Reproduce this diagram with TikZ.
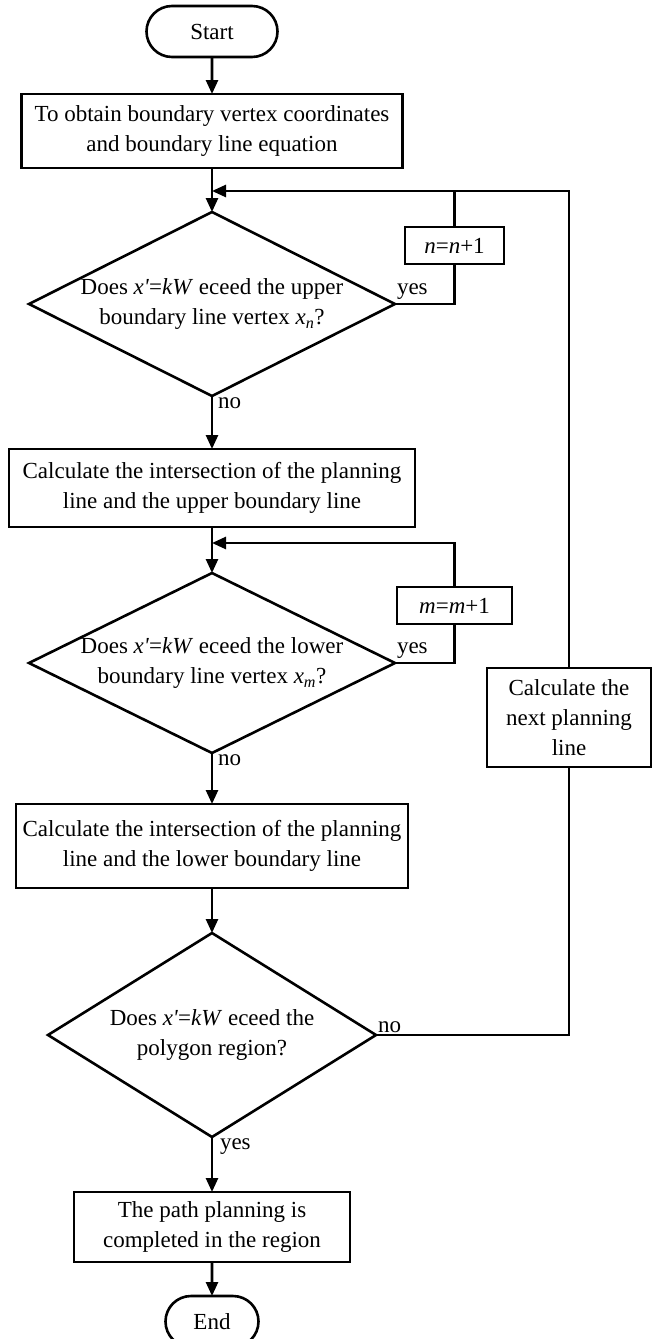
\documentclass[tikz,border=0pt]{standalone}
\usepackage{fontspec}
\setmainfont{Liberation Serif}
\usepackage{tikz}
\usetikzlibrary{arrows.meta,positioning,shapes.geometric,shapes.misc}

\begin{document}
\begin{tikzpicture}[
  x=1pt, y=-1pt,
  line width=2.6pt,
  every node/.style={font=\fontsize{23}{30}\selectfont, outer sep=0pt},
  term/.style={draw, rounded rectangle, minimum height=51pt, inner sep=0pt},
  box/.style={draw, rectangle, align=center, inner sep=0pt},
  decision/.style={draw, diamond, aspect=2, align=center, inner sep=-15pt},
  lbl/.style={inner sep=2pt},
  arrow/.style={-{Triangle[length=14pt,width=12pt]}}
]
\useasboundingbox (0,0) rectangle (655,1339);
\node[term, minimum width=131pt] (start) at (212,31.5) {Start};
\node[box, minimum width=381pt, minimum height=74pt, below=37pt of start] (obtain) {To obtain boundary vertex coordinates\\and boundary line equation};
\node[decision, minimum width=366pt, minimum height=184pt, below=44pt of obtain] (upper) {Does \textit{x\textquotesingle}=\textit{kW} eceed the upper\\boundary line vertex \textit{x}\textsubscript{\textit{n}}?};
\node[box, minimum width=406pt, minimum height=78pt, below=53pt of upper] (inter1) {Calculate the intersection of the planning\\line and the upper boundary line};
\node[decision, minimum width=366pt, minimum height=180pt, below=46pt of inter1] (lower) {Does \textit{x\textquotesingle}=\textit{kW} eceed the lower\\boundary line vertex \textit{x}\textsubscript{\textit{m}}?};
\node[box, minimum width=392pt, minimum height=84pt, below=51pt of lower] (inter2) {Calculate the intersection of the planning\\line and the lower boundary line};
\node[decision, minimum width=328pt, minimum height=204pt, below=45pt of inter2] (region) {Does \textit{x\textquotesingle}=\textit{kW} eceed the\\polygon region?};
\node[box, minimum width=276pt, minimum height=70pt, below=55pt of region] (done) {The path planning is\\completed in the region};
\node[term, minimum width=93pt, below=34pt of done] (end) {End};
\node[box, minimum width=99pt, minimum height=37pt] (nbox) at (454.5,245.5) {\textit{n}=\textit{n}+1};
\node[box, minimum width=115pt, minimum height=37pt] (mbox) at (454.5,605.5) {\textit{m}=\textit{m}+1};
\node[box, minimum width=164pt, minimum height=99pt] (next) at (569,717.5) {Calculate the\\next planning\\line};
\coordinate[below=23pt of obtain] (join1);
\coordinate[below=16pt of inter1] (join2);
% main column
\draw[arrow] (start) -- (obtain);
\draw[arrow] (obtain) -- (upper);
\draw[arrow] (upper) -- node[lbl, pos=0, anchor=north west, xshift=4pt] {no} (inter1);
\draw[arrow] (inter1) -- (lower);
\draw[arrow] (lower) -- node[lbl, pos=0, anchor=north west, xshift=4pt] {no} (inter2);
\draw[arrow] (inter2) -- (region);
\draw[arrow] (region) -- node[lbl, pos=0, anchor=north west, xshift=6pt] {yes} (done);
\draw[arrow] (done) -- (end);
% loops
\draw (upper.east) -| node[lbl, pos=0, anchor=south west, yshift=3pt] {yes} (nbox.south);
\draw (nbox.north) -- (nbox.north |- join1);
\draw (lower.east) -| node[lbl, pos=0, anchor=south west, yshift=3pt] {yes} (mbox.south);
\draw[arrow] (mbox.north) |- (join2);
\draw (region.east) -| node[lbl, pos=0, anchor=south west] {no} (next.south);
\draw[arrow] (next.north) |- (join1);
\end{tikzpicture}
\end{document}
